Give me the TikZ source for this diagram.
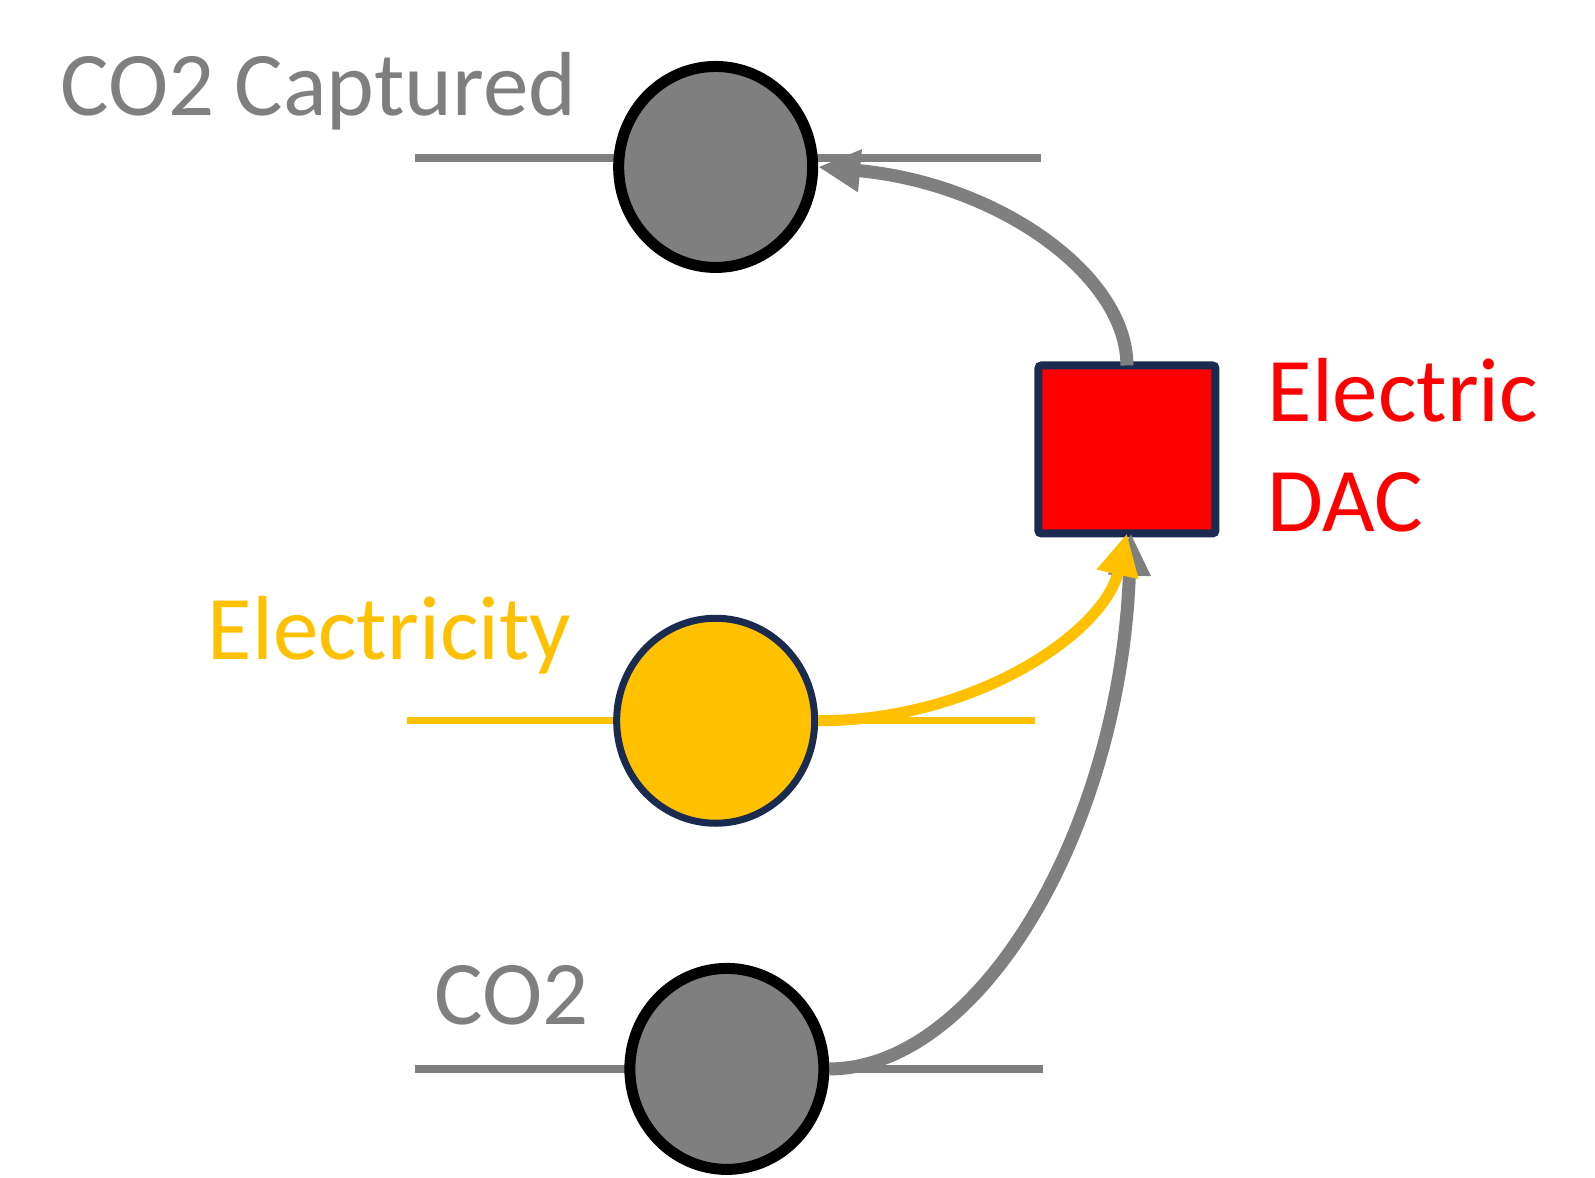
\documentclass[tikz,border=0pt]{standalone}
\usepackage{fontspec}
\setmainfont{Carlito}
\usetikzlibrary{shapes.geometric,arrows.meta}
\definecolor{cgray}{HTML}{7F7F7F}
\definecolor{cyel}{HTML}{FFC000}
\definecolor{cred}{HTML}{FF0000}
\definecolor{cnavy}{HTML}{1B2B50}
\tikzset{
  bus/.style={line width=8pt},
  hub/.style={ellipse,draw,inner sep=0pt,minimum width=194pt,minimum height=201pt},
  lbl/.style={anchor=base west,inner sep=0pt,font=\fontsize{91}{100}\selectfont},
  flow/.style={line width=13pt,-{Triangle[length=42pt,width=40pt]}},
}
\begin{document}
\begin{tikzpicture}[x=1.018pt,y=1.018pt]
\useasboundingbox (0,0) rectangle (1566.8,-1156.2);
% buses
\coordinate (b1l) at (408,-155); \coordinate (b1r) at (1023,-155);
\coordinate (b2l) at (400,-708); \coordinate (b2r) at (1017,-708);
\coordinate (b3l) at (408,-1050); \coordinate (b3r) at (1025,-1050);
\draw[bus,cgray] (b1l) -- (b1r);
\draw[bus,cyel,line width=7pt] (b2l) -- (b2r);
\draw[bus,cgray] (b3l) -- (b3r);
% hubs
\node[hub,fill=cgray,draw=black,line width=11pt] (cap) at (703,-164) {};
\node[hub,fill=cyel,draw=cnavy,line width=7pt,minimum width=198pt,minimum height=205pt] (ele) at (703,-708) {};
\node[hub,fill=cgray,draw=black,line width=11pt] (co2) at (714,-1050) {};
% DAC
\node[draw=cnavy,fill=cred,line width=8pt,rounded corners=3pt,minimum width=177pt,minimum height=168pt,inner sep=0pt,outer sep=0pt] (dac) at (1107,-441.5) {};
% labels
\node[lbl,text=cgray] (tcap) at (59,-113) {CO2 Captured};
\node[lbl,text=cyel] (tele) at (204,-648) {Electricity};
\node[lbl,text=cgray] (tco2) at (427,-1006) {CO2};
\node[lbl,text=cred] (tdac1) at (1245,-414) {Electric};
\node[lbl,text=cred] (tdac2) at (1245,-522) {DAC};
% flows
\draw[flow,cgray] (dac.north) .. controls (1107,-270) and (980,-180) .. (cap.east);
\draw[flow,cgray] (co2.east) .. controls (960,-1050) and (1100,-820) .. ([xshift=4pt]dac.south);
\draw[flow,cyel,line width=11pt] (ele.east) .. controls (960,-708) and (1085,-620) .. (dac.south);
\end{tikzpicture}
\end{document}
